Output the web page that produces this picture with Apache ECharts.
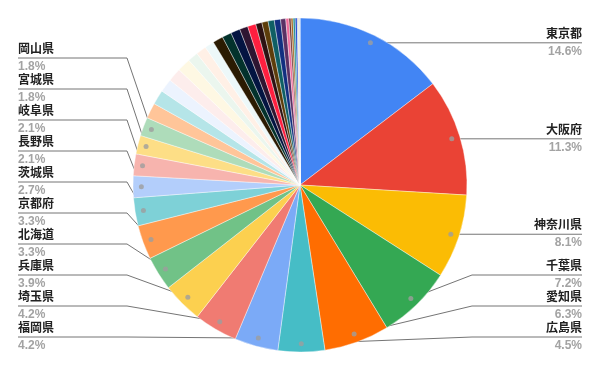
<!DOCTYPE html>
<html><head><meta charset="utf-8">
<script src="https://cdn.jsdelivr.net/npm/echarts@6/dist/echarts.min.js"></script>
<style>html,body{margin:0;padding:0;background:#fff}#c{width:600px;height:371px}</style>
</head><body><div id="c"></div>
<script>
const prefectures = ['東京都','大阪府','神奈川県','千葉県','愛知県','広島県','福岡県','埼玉県','兵庫県','北海道','京都府','茨城県','長野県','岐阜県','宮城県','岡山県',
  '静岡県','新潟県','栃木県','群馬県','福島県','三重県','熊本県','鹿児島県',
  '長崎県','愛媛県','山口県','奈良県','石川県','滋賀県','岩手県','青森県','沖縄県','大分県','富山県','香川県','山形県','秋田県','宮崎県',
  '和歌山県','福井県','山梨県','佐賀県','徳島県','高知県','島根県','鳥取県'];
const shares = [14.6,11.3,8.1,7.2,6.3,4.5,4.2,4.2,3.9,3.3,3.3,2.7,2.1,2.1,1.8,1.8,
  1.5,1.4,1.3,1.3,1.3,1.0,1.0,0.9,
  1.0,0.9,0.9,0.8,0.8,0.6,0.6,0.6,0.6,0.5,0.3,0.2,0.2,0.2,0.2,
  0.05,0.04,0.04,0.03,0.03,0.03,0.02,0.02];
const sliceColors = ['#4285F4','#EA4335','#FBBC04','#34A853','#FF6D01','#46BDC6','#7BAAF7','#F07B72','#FCD04F','#71C287','#FF994D','#7ED1D7','#B3CEFB','#F7B4AE','#FDDE86','#AEDCBA',
  '#FFC599','#B5E5E8','#ECF3FE','#FDEDEC','#FEF8E3','#EBF6EE','#FFF0E6','#EDF8F9',
  '#2B1B02','#03322C','#031441','#2E1531','#FF1F3F','#2C1212','#5D3D0A','#0F5F64','#122F80','#5B3064','#F06C9B','#6E3030','#A3681F','#24908F','#1F4BD0',
  '#3C78D8','#CC4125','#E69138','#6AA84F','#A64D79','#45818E','#674EA7','#999999'];
const labeledCount = 16;

const CX = 300, CY = 185, R = 167, DOT_R = 0.95;
const GAP = 31, BOTTOM = 337;
const FONT = '"Liberation Sans", Arial, "Noto Sans CJK JP", sans-serif';

const total = shares.reduce((a, b) => a + b, 0);
const mids = [];
let cum = 0;
shares.forEach(v => { mids.push((cum + v / 2) / total * 100); cum += v; });

const layout = {};
const rightSide = [], leftSide = [];
for (let i = 0; i < labeledCount; i++) {
  const a = mids[i] / 100 * 2 * Math.PI;
  const it = { i, dx: CX + R * DOT_R * Math.sin(a), dy: CY - R * DOT_R * Math.cos(a) };
  (mids[i] < 50 ? rightSide : leftSide).push(it);
}
function stack(arr, right) {
  arr.sort((a, b) => b.dy - a.dy);
  let lim = BOTTOM;
  const bendX = right ? CX + R + 5 : CX - R - 6;
  const edgeX = right ? 582 : 18;
  arr.forEach(it => {
    it.y = Math.min(it.dy, lim);
    lim = it.y - GAP;
    layout[it.i] = {
      x: edgeX, y: it.y, align: right ? 'right' : 'left', verticalAlign: 'middle',
      labelLinePoints: [[it.dx, it.dy], [bendX, it.y], [edgeX, it.y]]
    };
  });
}
stack(rightSide, true);
stack(leftSide, false);

const chart = echarts.init(document.getElementById('c'), null, { renderer: 'canvas' });
chart.setOption({
  animation: false,
  backgroundColor: '#fff',
  polar: { center: [CX, CY], radius: R },
  angleAxis: { type: 'value', min: 0, max: 100, startAngle: 90, clockwise: true,
    axisLine: { show: false }, axisTick: { show: false }, axisLabel: { show: false }, splitLine: { show: false } },
  radiusAxis: { type: 'value', min: 0, max: 1,
    axisLine: { show: false }, axisTick: { show: false }, axisLabel: { show: false }, splitLine: { show: false } },
  series: [{
    type: 'pie',
    center: [CX, CY],
    radius: R,
    startAngle: 90,
    clockwise: true,
    avoidLabelOverlap: false,
    emphasis: { disabled: true },
    itemStyle: { borderColor: '#fff', borderWidth: 0.4 },
    data: prefectures.map((n, i) => ({
      name: n, value: shares[i], itemStyle: { color: sliceColors[i] },
      label: { show: i < labeledCount }, labelLine: { show: i < labeledCount }
    })),
    label: {
      fontFamily: FONT,
      formatter: p => '{n|' + p.name + '}\n{p|' + p.value.toFixed(1) + '%}',
      rich: {
        n: { fontFamily: FONT, fontSize: 12, fontWeight: 'bold', color: '#222', lineHeight: 17 },
        p: { fontFamily: FONT, fontSize: 12, fontWeight: 'bold', color: '#a3a3a3', lineHeight: 17 }
      }
    },
    labelLine: { lineStyle: { color: '#757575', width: 1 } },
    labelLayout: params => layout[params.dataIndex] || {}
  }, {
    type: 'scatter',
    coordinateSystem: 'polar',
    silent: true,
    z: 10,
    symbolSize: 5,
    itemStyle: { color: '#9e9e9e' },
    data: mids.slice(0, labeledCount).map(m => [DOT_R, m])
  }]
});
</script>
</body></html>
